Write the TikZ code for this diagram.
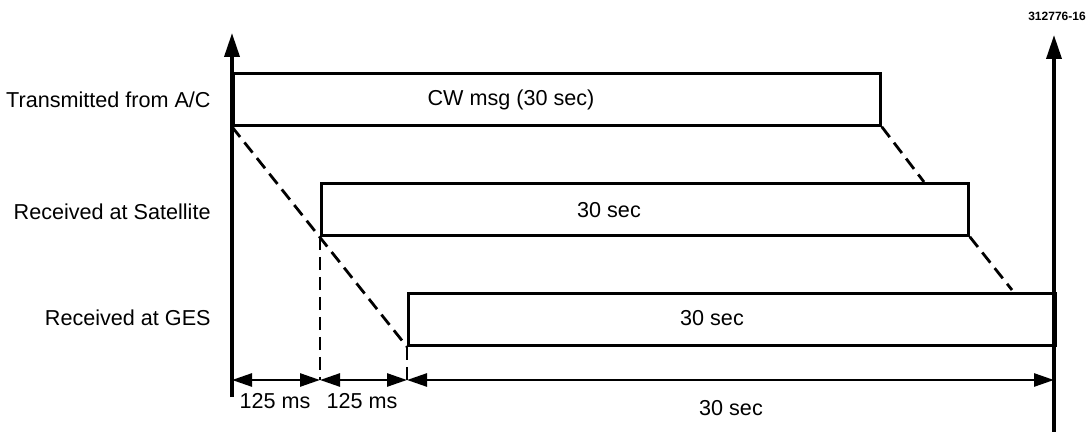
\documentclass[tikz,border=0pt]{standalone}
\usepackage{fontspec}
\setmainfont{Liberation Sans}
\usetikzlibrary{arrows.meta}
\begin{document}
\begin{tikzpicture}[x=0.5pt,y=-0.5pt,
  axis/.style={line width=1.8pt,-{Triangle[length=12pt,width=7.5pt]}},
  bar/.style={draw,line width=1.4pt,minimum width=323.5pt,minimum height=26pt,inner sep=0pt,anchor=north west},
  prop/.style={line width=1.4pt,dash pattern=on 6.5pt off 3.5pt},
  dim/.style={line width=1.3pt,{Triangle[length=10pt,width=6.5pt]}-{Triangle[length=10pt,width=6.5pt]}},
  lbl/.style={font=\fontsize{10.8}{12}\selectfont,inner sep=0pt},
  tag/.style={font=\fontsize{6}{7}\selectfont\bfseries,inner sep=0pt}]
\useasboundingbox (0,0) rectangle (1086,432);
% axes
\coordinate (a0) at (232,397);
\coordinate (a1) at (232,33);
\coordinate (b0) at (1054,432);
\coordinate (b1) at (1054,35);
\draw[axis] (a0) -- (a1);
\draw[axis] (b0) -- (b1);
% bars
\node[bar] (box1) at (232,72) {};
\node[bar] (box2) at (320,182) {};
\node[bar] (box3) at (407,292) {};
\node[lbl] (m1) at (511,100) {CW msg (30 sec)};
\node[lbl] (m2) at (609,210) {30 sec};
\node[lbl] (m3) at (712,318) {30 sec};
% row labels
\node[lbl,anchor=east] (r1) at (211,100) {Transmitted from A/C};
\node[lbl,anchor=east] (r2) at (211,212) {Received at Satellite};
\node[lbl,anchor=east] (r3) at (211,318) {Received at GES};
% dimension points
\coordinate (d0) at (232,380);
\coordinate (d1) at (320,380);
\coordinate (d2) at (407,380);
\coordinate (d3) at (1054,380);
% propagation lines
\draw[prop] (box1.south west) -- (box3.south west);
\draw[prop] (box2.south west) -- (d1);
\draw[prop] (box3.south west) -- (d2);
\coordinate (e1) at (924,182);
\coordinate (e2) at (1012,290);
\draw[prop] (box1.south east) -- (e1);
\draw[prop] (box2.south east) -- (e2);
% dimensions
\draw[dim] (d0) -- (d1);
\draw[dim] (d1) -- (d2);
\draw[dim] (d2) -- (d3);
\node[lbl] (l1) at (275,401) {125 ms};
\node[lbl] (l2) at (362,401) {125 ms};
\node[lbl] (l3) at (731,408) {30 sec};
\node[tag] (id) at (1057,16) {312776-16};
\end{tikzpicture}
\end{document}
